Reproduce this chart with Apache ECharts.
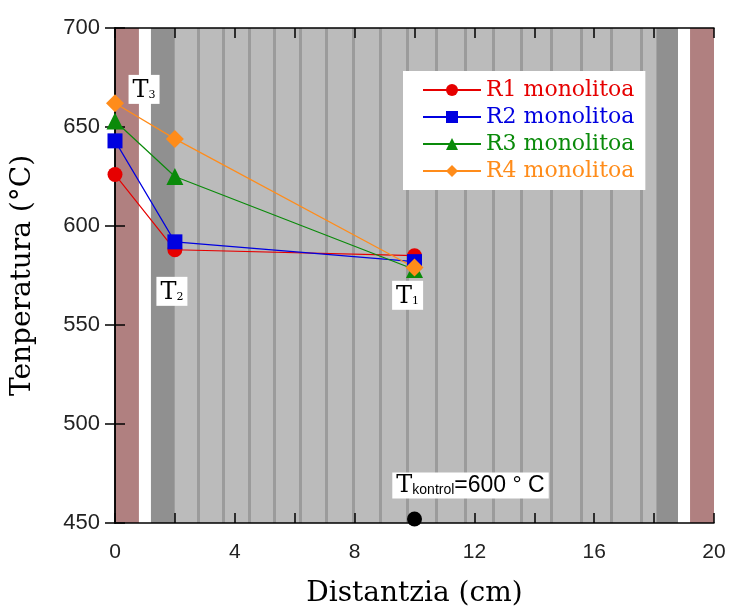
<!DOCTYPE html>
<html>
<head>
<meta charset="utf-8">
<script src="https://cdn.jsdelivr.net/npm/echarts@6/dist/echarts.min.js"></script>
<style>html,body{margin:0;padding:0;background:#fff}#c{width:729px;height:608px}</style>
</head>
<body>
<div id="c"></div>
<script>
// ---- data ----
var distances = [0, 2, 10];
var seriesNames = ['R1 monolitoa', 'R2 monolitoa', 'R3 monolitoa', 'R4 monolitoa'];
var r1 = [626, 588, 585];
var r2 = [643, 592, 582];
var r3 = [653, 625, 578];
var r4 = [662, 644, 579];
var controlPoint = [10, 452];
var xTicks = [0, 4, 8, 12, 16, 20];
var yTicks = [450, 500, 550, 600, 650, 700];
// background zones (cm): [start, end, kind]
var zones = [[0, 0.8, 'wall'], [0.8, 1.2, 'gap'], [1.2, 2.0, 'dark'], [2.0, 18.07, 'light'], [18.07, 18.8, 'dark'], [18.8, 19.2, 'gap'], [19.2, 20, 'wall']];
var channels = [2.77, 3.6, 4.47, 5.33, 6.2, 7.07, 7.97, 8.87, 9.77, 10.73, 11.7, 12.63, 13.57, 14.57, 15.57, 16.57, 17.57];
// annotations: [x, y, label]
var notes = [[0.97, 669, 'T3'], [1.9, 567, 'T2'], [9.77, 565, 'T1']];
var controlNote = [11.87, 469];

var zoneColor = {wall: '#b08080', gap: '#ffffff', dark: '#909090', light: '#bbbbbb'};
var colors = ['#e60000', '#0000e0', '#0a8a0a', '#ff8c1a'];
var symbols = ['circle', 'rect', 'triangle', 'diamond'];
var values = [r1, r2, r3, r4];

var chart = echarts.init(document.getElementById('c'), null, {renderer: 'canvas'});

function pairs(v) { return distances.map(function (d, i) { return [d, v[i]]; }); }

var axisCommon = {
  axisLine: {show: true, lineStyle: {color: '#000', width: 1.5}},
  axisTick: {show: true, inside: true, length: 10, lineStyle: {color: '#000', width: 1.5}},
  splitLine: {show: false},
  z: 10
};

var series = [];
series.push({
  type: 'line', data: [], z: 0, silent: true,
  markArea: {silent: true, z: 0, data: zones.map(function (z) {
    return [{xAxis: z[0], itemStyle: {color: zoneColor[z[2]], opacity: 1}}, {xAxis: z[1]}];
  })}
});
series.push({
  type: 'line', data: [], z: 1, silent: true,
  markLine: {silent: true, z: 1, symbol: ['none', 'none'], label: {show: false},
    lineStyle: {color: '#9b9b9b', width: 3, type: 'solid', opacity: 1},
    data: channels.map(function (c) { return {xAxis: c}; })}
});
values.forEach(function (v, i) {
  series.push({
    name: seriesNames[i], type: 'line', data: pairs(v), z: 11,
    symbol: symbols[i], symbolSize: i === 2 ? 17 : (i === 3 ? 18 : 15),
    lineStyle: {color: colors[i], width: 1.2},
    itemStyle: {color: colors[i]}
  });
});
series.push({
  type: 'scatter', data: [controlPoint], z: 11, symbol: 'circle', symbolSize: 15,
  itemStyle: {color: '#000', opacity: 1}
});
series.push({
  type: 'scatter', z: 12, symbolSize: 1, silent: true,
  itemStyle: {opacity: 0},
  data: notes.map(function (n) { return {value: [n[0], n[1]], name: n[2]}; }),
  label: {
    show: true, position: 'inside', opacity: 1,
    formatter: function (p) { return '{t|T}{s|' + p.name.slice(1) + '}'; },
    backgroundColor: '#ffffff', padding: [3, 4, 1, 4],
    rich: {
      t: {fontFamily: 'DejaVu Serif', fontSize: 24, color: '#000', lineHeight: 25},
      s: {fontFamily: 'DejaVu Serif', fontSize: 11, color: '#000', lineHeight: 25, padding: [9, 0, 0, 0]}
    }
  }
});
series.push({
  type: 'scatter', z: 12, symbolSize: 1, silent: true,
  itemStyle: {opacity: 0},
  data: [{value: controlNote}],
  label: {
    show: true, position: 'inside', opacity: 1,
    formatter: function () { return '{t|T}{s|kontrol}{n|=600 ° C}'; },
    backgroundColor: '#ffffff', padding: [1, 4, 0, 4],
    rich: {
      t: {fontFamily: 'DejaVu Serif', fontSize: 24, color: '#000', lineHeight: 25},
      s: {fontFamily: 'Liberation Sans', fontSize: 14, color: '#000', lineHeight: 25, padding: [8, 0, 0, 0]},
      n: {fontFamily: 'Liberation Sans', fontSize: 23, color: '#000', lineHeight: 25}
    }
  }
});

chart.setOption({
  animation: false,
  backgroundColor: '#fff',
  grid: {left: 115, right: 15, top: 28, bottom: 85, containLabel: false, outerBoundsMode: 'none'},
  legend: {
    show: true, orient: 'vertical', left: 403, top: 71, z: 20,
    backgroundColor: '#fff', padding: [8, 11, 8, 19],
    itemWidth: 58, itemHeight: 15, itemGap: 5,
    data: seriesNames.map(function (n, i) { return {name: n, textStyle: {color: colors[i]}}; }),
    textStyle: {fontFamily: 'DejaVu Serif', fontSize: 22, lineHeight: 22}
  },
  xAxis: [
    Object.assign({}, axisCommon, {
      type: 'value', position: 'bottom', min: 0, max: 20, interval: 2,
      name: 'Distantzia (cm)', nameLocation: 'middle', nameGap: 57,
      nameTextStyle: {fontFamily: 'DejaVu Serif', fontSize: 28, color: '#000'},
      axisLabel: {show: true, margin: 19, fontFamily: 'Liberation Sans', fontSize: 21, color: '#222',
        formatter: function (v) { return xTicks.indexOf(v) >= 0 ? String(v) : ''; }}
    }),
    Object.assign({}, axisCommon, {
      type: 'value', position: 'top', min: 0, max: 20, interval: 2, axisLabel: {show: false}
    })
  ],
  yAxis: [
    Object.assign({}, axisCommon, {
      type: 'value', position: 'left', min: 450, max: 700, interval: 50,
      name: 'Tenperatura (°C)', nameLocation: 'middle', nameGap: 78, nameRotate: 90,
      nameTextStyle: {fontFamily: 'DejaVu Serif', fontSize: 28, color: '#000'},
      axisLabel: {show: true, margin: 15, fontFamily: 'Liberation Sans', fontSize: 22, color: '#222',
        formatter: function (v) { return yTicks.indexOf(v) >= 0 ? String(v) : ''; }}
    }),
    Object.assign({}, axisCommon, {
      type: 'value', position: 'right', min: 450, max: 700, interval: 50, axisLabel: {show: false}
    })
  ],
  series: series
});
</script>
</body>
</html>
